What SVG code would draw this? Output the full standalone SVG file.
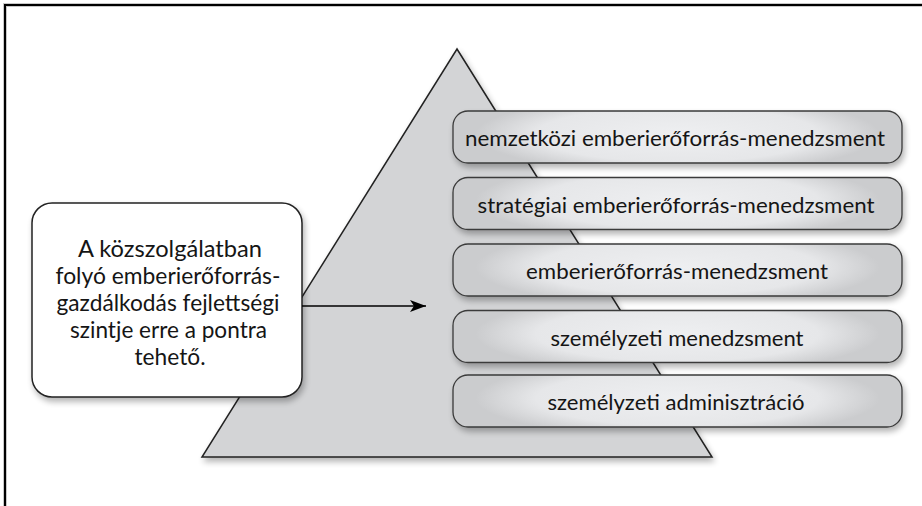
<svg xmlns="http://www.w3.org/2000/svg" width="922" height="506" viewBox="0 0 922 506">
<defs>
<radialGradient id="boxg" cx="0.5" cy="0.45" r="0.75" gradientTransform="translate(0.5 0.5) scale(0.6 1) translate(-0.5 -0.5)">
<stop offset="0" stop-color="#eeeff1"/>
<stop offset="0.7" stop-color="#e6e7e9"/>
<stop offset="1" stop-color="#cbccce"/>
</radialGradient>
<filter id="sh" x="-10%" y="-20%" width="125%" height="160%">
<feGaussianBlur in="SourceAlpha" stdDeviation="3"/>
<feOffset dx="2" dy="4" result="b"/>
<feComponentTransfer><feFuncA type="linear" slope="0.3"/></feComponentTransfer>
<feMerge><feMergeNode/><feMergeNode in="SourceGraphic"/></feMerge>
</filter>
<marker id="ah" markerWidth="16" markerHeight="12" refX="16" refY="6" orient="auto" markerUnits="userSpaceOnUse">
<path d="M0,0 L16,6 L0,12 L4,6 Z" fill="#000"/>
</marker>
<style>
.lvl rect{fill:url(#boxg);stroke:#3a3a3a;stroke-width:1.3;filter:url(#sh)}
.lvl text{font-family:Lato,"Open Sans",sans-serif;font-size:21px;fill:#151515;text-anchor:middle}
.note text{font-family:Lato,"Open Sans",sans-serif;font-size:23.5px;fill:#151515;text-anchor:middle}
</style>
</defs>
<rect width="922" height="506" fill="#fff"/>
<path d="M5,506 V5 H922" fill="none" stroke="#c8c8c8" stroke-width="4"/>
<path d="M5,506 V5 H922" fill="none" stroke="#000" stroke-width="2"/>
<g id="pyramid">
<polygon points="457,49 712,457 202,457" fill="#d3d4d6" stroke="#222" stroke-width="1.5" stroke-linejoin="miter" filter="url(#sh)"/>
</g>
<g id="level5" class="lvl"><rect x="453" y="375" width="449" height="52" rx="15"/><text x="676" y="410" textLength="257" lengthAdjust="spacingAndGlyphs">személyzeti adminisztráció</text></g>
<g id="level4" class="lvl"><rect x="453" y="310.5" width="449" height="52" rx="15"/><text x="677" y="345.5" textLength="253" lengthAdjust="spacingAndGlyphs">személyzeti menedzsment</text></g>
<g id="level3" class="lvl"><rect x="453" y="244" width="449" height="52" rx="15"/><text x="677" y="279" textLength="302" lengthAdjust="spacingAndGlyphs">emberierőforrás-menedzsment</text></g>
<g id="level2" class="lvl"><rect x="453" y="177.5" width="449" height="52" rx="15"/><text x="676" y="212.5" textLength="397" lengthAdjust="spacingAndGlyphs">stratégiai emberierőforrás-menedzsment</text></g>
<g id="level1" class="lvl"><rect x="453" y="111" width="449" height="52" rx="15"/><text x="675" y="146" textLength="420" lengthAdjust="spacingAndGlyphs">nemzetközi emberierőforrás-menedzsment</text></g>
<g id="note" class="note">
<rect x="32" y="203" width="270" height="194" rx="20" fill="#fff" stroke="#222" stroke-width="1.5" filter="url(#sh)"/>
<text x="170" y="257" textLength="184" lengthAdjust="spacingAndGlyphs">A közszolgálatban</text>
<text x="168" y="284" textLength="225" lengthAdjust="spacingAndGlyphs">folyó emberierőforrás-</text>
<text x="168" y="311" textLength="223" lengthAdjust="spacingAndGlyphs">gazdálkodás fejlettségi</text>
<text x="168.5" y="338" textLength="197" lengthAdjust="spacingAndGlyphs">szintje erre a pontra</text>
<text x="170" y="365" textLength="71" lengthAdjust="spacingAndGlyphs">tehető.</text>
</g>
<g id="connectors">
<line x1="302" y1="306" x2="426" y2="306" stroke="#000" stroke-width="1.5" marker-end="url(#ah)"/>
</g>
</svg>
